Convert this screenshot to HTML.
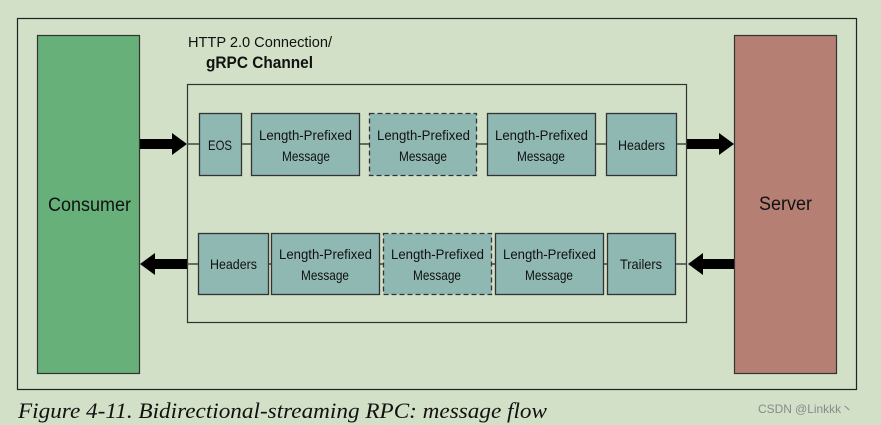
<!DOCTYPE html>
<html><head><style>
html,body{margin:0;padding:0;background:#d1e0c6;}
svg{display:block}
text{font-family:"Liberation Sans",sans-serif;fill:#111;}
</style></head><body>
<svg width="881" height="425" viewBox="0 0 881 425" xmlns="http://www.w3.org/2000/svg">
<rect x="0" y="0" width="881" height="425" fill="#d1e0c6"/>
<rect x="17.5" y="18.5" width="839" height="371" fill="none" stroke="#222" stroke-width="1.2"/>
<rect x="37.5" y="35.5" width="102" height="338" fill="#67b07a" stroke="#333" stroke-width="1.2"/>
<rect x="734.5" y="35.5" width="102" height="338" fill="#b58073" stroke="#333" stroke-width="1.2"/>
<text x="48" y="211" font-size="19" textLength="83" lengthAdjust="spacingAndGlyphs">Consumer</text>
<text x="759" y="210" font-size="19" textLength="53" lengthAdjust="spacingAndGlyphs">Server</text>
<text x="188" y="47" font-size="15" textLength="144" lengthAdjust="spacingAndGlyphs">HTTP 2.0 Connection/</text>
<text x="206" y="68" font-size="17" font-weight="bold" textLength="107" lengthAdjust="spacingAndGlyphs">gRPC Channel</text>
<rect x="187.5" y="84.5" width="499" height="238" fill="none" stroke="#333" stroke-width="1.2"/>
<line x1="187" y1="144" x2="687" y2="144" stroke="#444" stroke-width="1.5"/>
<line x1="187" y1="264" x2="687" y2="264" stroke="#444" stroke-width="1.5"/>
<g fill="#000">
<rect x="140" y="139" width="34" height="10"/><polygon points="172,133 187,144 172,155"/>
<rect x="687" y="139" width="34" height="10"/><polygon points="719,133 734,144 719,155"/>
<rect x="153" y="259" width="34" height="10"/><polygon points="155,253 140,264 155,275"/>
<rect x="701" y="259" width="33" height="10"/><polygon points="703,253 688,264 703,275"/>
</g>
<g fill="#8fb8b3" stroke="#333" stroke-width="1.3">
<rect x="199.5" y="113.5" width="42" height="62"/>
<rect x="251.5" y="113.5" width="108" height="62"/>
<rect x="369.5" y="113.5" width="107" height="62" stroke-dasharray="5,3"/>
<rect x="487.5" y="113.5" width="108" height="62"/>
<rect x="606.5" y="113.5" width="70" height="62"/>
<rect x="198.5" y="233.5" width="70" height="61"/>
<rect x="271.5" y="233.5" width="108" height="61"/>
<rect x="383.5" y="233.5" width="108" height="61" stroke-dasharray="5,3"/>
<rect x="495.5" y="233.5" width="108" height="61"/>
<rect x="607.5" y="233.5" width="68" height="61"/>
</g>
<g font-size="14">
<text x="208" y="150" textLength="24" lengthAdjust="spacingAndGlyphs">EOS</text>
<text x="259" y="140" textLength="93" lengthAdjust="spacingAndGlyphs">Length-Prefixed</text><text x="282" y="161" textLength="48" lengthAdjust="spacingAndGlyphs">Message</text>
<text x="377" y="140" textLength="93" lengthAdjust="spacingAndGlyphs">Length-Prefixed</text><text x="399" y="161" textLength="48" lengthAdjust="spacingAndGlyphs">Message</text>
<text x="495" y="140" textLength="93" lengthAdjust="spacingAndGlyphs">Length-Prefixed</text><text x="517" y="161" textLength="48" lengthAdjust="spacingAndGlyphs">Message</text>
<text x="618" y="150" textLength="47" lengthAdjust="spacingAndGlyphs">Headers</text>
<text x="210" y="269" textLength="47" lengthAdjust="spacingAndGlyphs">Headers</text>
<text x="279" y="259" textLength="93" lengthAdjust="spacingAndGlyphs">Length-Prefixed</text><text x="301" y="280" textLength="48" lengthAdjust="spacingAndGlyphs">Message</text>
<text x="391" y="259" textLength="93" lengthAdjust="spacingAndGlyphs">Length-Prefixed</text><text x="413" y="280" textLength="48" lengthAdjust="spacingAndGlyphs">Message</text>
<text x="503" y="259" textLength="93" lengthAdjust="spacingAndGlyphs">Length-Prefixed</text><text x="525" y="280" textLength="48" lengthAdjust="spacingAndGlyphs">Message</text>
<text x="620" y="269" textLength="42" lengthAdjust="spacingAndGlyphs">Trailers</text>
</g>
<text x="18" y="418" font-size="22" font-style="italic" style="font-family:'Liberation Serif',serif" textLength="529" lengthAdjust="spacingAndGlyphs">Figure 4-11. Bidirectional-streaming RPC: message flow</text>
<text x="758" y="413" font-size="12" style="fill:#8a8a8a" textLength="95" lengthAdjust="spacingAndGlyphs">CSDN @Linkkk丶</text>
</svg>
</body></html>
